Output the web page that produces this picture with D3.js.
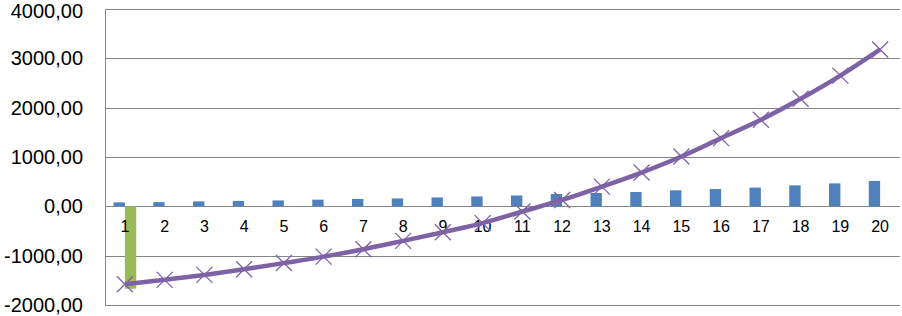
<!DOCTYPE html>
<html>
<head>
<meta charset="utf-8">
<script src="https://cdn.jsdelivr.net/npm/d3@7"></script>
<style>
  body { margin: 0; background: #fff; }
  svg { display: block; }
  .grid line { stroke: #868686; stroke-width: 1; }
  text { font-family: "Liberation Sans", Arial, sans-serif; fill: #000; }
</style>
</head>
<body>
<svg id="chart"></svg>
<script>
// chart values
const categories = ["1","2","3","4","5","6","7","8","9","10","11","12","13","14","15","16","17","18","19","20"];
const blueValues = [80, 85, 100, 110, 120, 135, 150, 160, 180, 200, 220, 250, 270, 290, 325, 350, 380, 425, 465, 515];
const greenValues = [-1670, 0, 0, 0, 0, 0, 0, 0, 0, 0, 0, 0, 0, 0, 0, 0, 0, 0, 0, 0];
const lineValues = [-1580, -1490, -1390, -1275, -1150, -1020, -870, -700, -525, -340, -105, 130, 400, 685, 1010, 1383, 1755, 2180, 2650, 3180];
const yTicks = [-2000, -1000, 0, 1000, 2000, 3000, 4000];

const width = 902;
const height = 316;
const margin = { top: 9, right: 2, bottom: 11, left: 105 };

const svg = d3.select("#chart")
    .attr("width", width)
    .attr("height", height);

const x = d3.scaleBand()
    .domain(categories)
    .range([margin.left, width - margin.right])
    .paddingInner(0)
    .paddingOuter(0);

const y = d3.scaleLinear()
    .domain([-2000, 4000])
    .range([height - margin.bottom, margin.top]);

const fmt = v => d3.format(".2f")(v).replace(".", ",").replace("−", "-");

// gridlines
svg.append("g")
    .attr("class", "grid")
    .selectAll("line")
    .data(yTicks)
    .enter()
    .append("line")
    .attr("x1", margin.left)
    .attr("x2", width - margin.right)
    .attr("y1", d => Math.round(y(d)) + 0.5)
    .attr("y2", d => Math.round(y(d)) + 0.5);

// left axis line
svg.append("line")
    .attr("x1", margin.left + 0.5)
    .attr("x2", margin.left + 0.5)
    .attr("y1", y(4000))
    .attr("y2", y(-2000))
    .attr("stroke", "#868686");

// y labels (top one kept just inside the window)
svg.append("g")
    .selectAll("text")
    .data(yTicks)
    .enter()
    .append("text")
    .attr("x", 83)
    .attr("y", d => Math.max(y(d), 10.5))
    .attr("dy", "0.35em")
    .attr("text-anchor", "end")
    .style("font-size", "20px")
    .text(d => fmt(d));

const barW = x.bandwidth() / 3.5;

// blue series
svg.append("g")
    .selectAll("rect")
    .data(blueValues)
    .enter()
    .append("rect")
    .attr("x", (d, i) => x(categories[i]) + x.bandwidth() / 2 - barW)
    .attr("y", d => y(Math.max(0, d)))
    .attr("width", barW)
    .attr("height", d => Math.abs(y(d) - y(0)))
    .attr("fill", "#4F81BD");

// green series
svg.append("g")
    .selectAll("rect")
    .data(greenValues)
    .enter()
    .append("rect")
    .attr("x", (d, i) => x(categories[i]) + x.bandwidth() / 2)
    .attr("y", d => y(Math.max(0, d)))
    .attr("width", barW)
    .attr("height", d => Math.abs(y(d) - y(0)))
    .attr("fill", "#9BBB59");

// category labels under the zero line
svg.append("g")
    .selectAll("text")
    .data(categories)
    .enter()
    .append("text")
    .attr("x", d => x(d) + x.bandwidth() / 2)
    .attr("y", y(0) + 26)
    .attr("text-anchor", "middle")
    .style("font-size", "16px")
    .text(d => d);

// purple line
const line = d3.line()
    .x((d, i) => x(categories[i]) + x.bandwidth() / 2)
    .y(d => y(d))
    .curve(d3.curveMonotoneX);

svg.append("path")
    .datum(lineValues)
    .attr("d", line)
    .attr("fill", "none")
    .attr("stroke", "#7E62A6")
    .attr("stroke-width", 4.5)
    .attr("stroke-linejoin", "round");

// x markers
const m = 8;
svg.append("g")
    .selectAll("path")
    .data(lineValues)
    .enter()
    .append("path")
    .attr("d", (d, i) => {
        const cx = x(categories[i]) + x.bandwidth() / 2;
        const cy = y(d);
        return `M${cx - m},${cy - m}L${cx + m},${cy + m}M${cx - m},${cy + m}L${cx + m},${cy - m}`;
    })
    .attr("stroke", "#7E62A6")
    .attr("stroke-width", 1.3)
    .attr("fill", "none");
</script>
</body>
</html>
